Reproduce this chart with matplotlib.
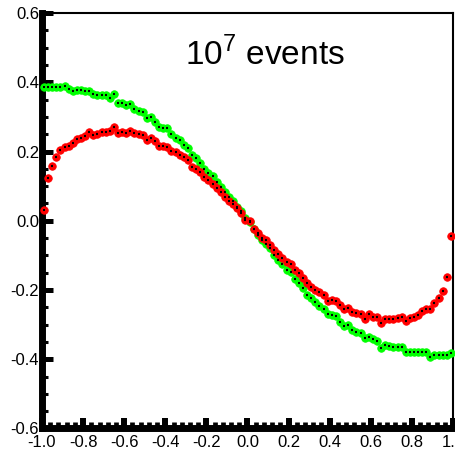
import numpy as np
import matplotlib
matplotlib.use("Agg")
import matplotlib.pyplot as plt
from matplotlib.ticker import MultipleLocator, FormatStrFormatter

plt.rcParams['font.family'] = ['Liberation Sans', 'DejaVu Sans']
plt.rcParams['axes.unicode_minus'] = False
plt.rcParams['mathtext.fontset'] = 'custom'
plt.rcParams['mathtext.rm'] = 'Liberation Sans'

#100 bins between -1 and 1.
bin_centres = np.linspace(-0.99, 0.99, 100)

green = [0.387, 0.387, 0.387, 0.387, 0.386, 0.390, 0.381, 0.375, 0.377, 0.377,
         0.375, 0.375, 0.365, 0.364, 0.364, 0.364, 0.355, 0.366, 0.340, 0.340,
         0.333, 0.338, 0.322, 0.318, 0.313, 0.296, 0.300, 0.285, 0.270, 0.267,
         0.267, 0.250, 0.240, 0.232, 0.220, 0.210, 0.190, 0.181, 0.167, 0.149,
         0.138, 0.130, 0.112, 0.097, 0.082, 0.068, 0.056, 0.041, 0.027, 0.008,
         -0.005, -0.025, -0.041, -0.056, -0.068, -0.079, -0.100, -0.114, -0.125, -0.143,
         -0.149, -0.169, -0.180, -0.195, -0.215, -0.223, -0.235, -0.247, -0.255, -0.270,
         -0.272, -0.276, -0.293, -0.305, -0.302, -0.316, -0.322, -0.325, -0.339, -0.336,
         -0.342, -0.348, -0.368, -0.359, -0.363, -0.364, -0.365, -0.366, -0.380, -0.380,
         -0.380, -0.378, -0.380, -0.380, -0.393, -0.388, -0.388, -0.388, -0.388, -0.383]

red = [0.031, 0.123, 0.158, 0.183, 0.205, 0.213, 0.215, 0.224, 0.236, 0.240,
       0.244, 0.256, 0.247, 0.250, 0.256, 0.257, 0.259, 0.270, 0.253, 0.256,
       0.252, 0.258, 0.252, 0.251, 0.248, 0.233, 0.238, 0.231, 0.216, 0.216,
       0.214, 0.202, 0.198, 0.190, 0.184, 0.176, 0.155, 0.150, 0.141, 0.126,
       0.117, 0.106, 0.094, 0.083, 0.068, 0.057, 0.048, 0.036, 0.022, 0.002,
       -0.002, -0.024, -0.036, -0.050, -0.057, -0.070, -0.085, -0.097, -0.109, -0.120,
       -0.125, -0.143, -0.152, -0.165, -0.180, -0.192, -0.200, -0.206, -0.215, -0.232,
       -0.230, -0.232, -0.244, -0.256, -0.252, -0.264, -0.267, -0.270, -0.284, -0.270,
       -0.278, -0.278, -0.296, -0.284, -0.285, -0.284, -0.281, -0.279, -0.290, -0.281,
       -0.278, -0.273, -0.261, -0.256, -0.256, -0.238, -0.224, -0.203, -0.163, -0.044]

fig = plt.figure(figsize=(4.56, 4.50), dpi=100)
ax = fig.add_axes([0.0921, 0.0478, 0.9013, 0.9233])

#Green points first, red on top of them.
for vals, col in [(green, '#00ff00'), (red, '#ff0000')]:
    ax.plot(bin_centres, vals, linestyle='none', marker='o', markersize=5.4,
            markerfacecolor=col, markeredgecolor=col, markeredgewidth=0.6,
            clip_on=False, zorder=3)
    ax.plot(bin_centres, vals, linestyle='none', marker='_', markersize=2.0,
            markeredgewidth=1.5, color='black', clip_on=False, zorder=4)

ax.set_xlim(-1.0, 1.0)
ax.set_ylim(-0.6, 0.6)

ax.xaxis.set_major_locator(MultipleLocator(0.2))
ax.xaxis.set_minor_locator(MultipleLocator(0.04))
ax.yaxis.set_major_locator(MultipleLocator(0.2))
ax.yaxis.set_minor_locator(MultipleLocator(0.05))
ax.xaxis.set_major_formatter(FormatStrFormatter('%.1f'))
ax.yaxis.set_major_formatter(FormatStrFormatter('%.1f'))

ax.tick_params(axis='x', which='major', direction='in', length=7.5, width=4.3,
               labelsize=12, pad=5)
ax.tick_params(axis='x', which='minor', direction='in', length=4, width=3.4)
ax.tick_params(axis='y', which='major', direction='in', length=8, width=3.6,
               labelsize=12, pad=2)
ax.tick_params(axis='y', which='minor', direction='in', length=4.3, width=2.2)

ax.spines['left'].set_linewidth(5)
ax.spines['bottom'].set_linewidth(5)
ax.spines['top'].set_linewidth(1.5)
ax.spines['right'].set_linewidth(1.5)

ax.text(0.543, 0.899, r'10$^{\mathregular{7}}$ events', transform=ax.transAxes,
        ha='center', va='center', fontsize=24)

plt.savefig("out.png", dpi=100)
plt.close()
